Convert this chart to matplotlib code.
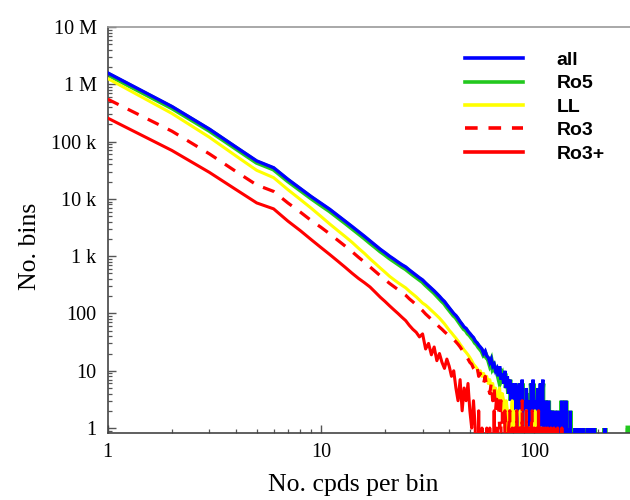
import matplotlib
matplotlib.use("Agg")
import matplotlib.pyplot as plt
from matplotlib.ticker import FixedLocator, FixedFormatter, LogLocator, NullFormatter
from matplotlib.lines import Line2D

# ---------------- data ----------------
series_names = ["all", "Ro5", "LL", "Ro3", "Ro3+"]

all_counts = [
    1580000, 410000, 165000, 80000, 46000, 35000, 22000, 15200, 11000, 8400,
    6600, 5150, 4100, 3300, 2700, 2230, 1850, 1560, 1320, 1150,
    1000, 890, 790, 710, 650, 575, 515, 465, 420, 385,
    340, 305, 275, 248, 222, 200, 178, 162, 142, 126,
    112, 100, 92, 82, 72, 65, 58, 55, 49, 45,
    41, 38, 33, 31, 28, 26, 24, 20, 22, 18,
    17, 14, 16, 12, 13, 10, 11, 8, 12, 7,
    9, 6, 10, 5, 8, 4, 7, 3, 6, 5,
    2, 6, 4, 1, 5, 6, 2, 7, 1, 3,
    0, 5, 2, 1, 3, 0, 6, 4, 7, 2,
    0, 3, 1, 5, 0, 1, 6, 0, 4, 7,
    0, 1, 3, 0, 1, 0, 3, 0, 2, 0,
    2, 0, 1, 0, 2, 0, 0, 1, 0, 2,
    0, 0, 1, 0, 3, 0, 0, 2, 0, 0,
    3, 0, 0, 0, 1, 0, 0, 2, 0, 0,
    0, 0, 0, 0, 0, 1, 0, 0, 0, 1,
    0, 0, 1, 0, 0, 0, 0, 0, 0, 1,
    0, 0, 0, 0, 0, 0, 0, 1, 0, 0,
    0, 0, 0, 0, 1, 0, 0, 0, 0, 0,
    0, 1, 0, 0, 0, 0, 0, 0, 0, 0,
    0, 0, 0, 0, 0, 0, 0, 0, 0, 0,
    0, 0, 0, 0, 1, 0, 0, 0, 0, 0,
]

ro5_counts = [
    1500000, 390000, 157000, 76000, 43500, 33200, 20800, 14400, 10400, 7900,
    6200, 4850, 3850, 3100, 2530, 2090, 1730, 1460, 1235, 1075,
    935, 830, 740, 665, 605, 538, 482, 435, 393, 360,
    318, 285, 257, 232, 207, 186, 166, 151, 132, 117,
    104, 93, 86, 76, 67, 60, 54, 51, 45, 42,
    38, 35, 31, 29, 26, 24, 22, 19, 20, 17,
    16, 13, 15, 11, 12, 10, 10, 8, 11, 7,
    8, 6, 9, 5, 7, 4, 7, 3, 5, 5,
    2, 5, 4, 1, 5, 6, 2, 6, 1, 3,
    0, 4, 2, 1, 3, 0, 6, 4, 6, 2,
    0, 3, 1, 5, 0, 1, 5, 0, 4, 6,
    0, 1, 3, 0, 1, 0, 3, 0, 2, 0,
    2, 0, 1, 0, 2, 0, 0, 1, 0, 2,
    0, 0, 1, 0, 3, 0, 0, 2, 0, 0,
    3, 0, 0, 0, 1, 0, 0, 2, 0, 0,
    0, 0, 0, 0, 0, 1, 0, 0, 0, 1,
    0, 0, 1, 0, 0, 0, 0, 0, 0, 1,
    0, 0, 0, 0, 0, 0, 0, 1, 0, 0,
    0, 0, 0, 0, 1, 0, 0, 0, 0, 0,
    0, 1, 0, 0, 0, 0, 0, 0, 0, 0,
    0, 0, 0, 0, 0, 0, 0, 0, 0, 0,
    0, 0, 0, 0, 1, 0, 0, 0, 0, 0,
    0, 0, 0, 0, 0, 0, 0, 0, 0, 0,
    0, 0, 0, 0, 0, 0, 0, 0, 0, 0,
    0, 0, 0, 0, 0, 0, 0, 0, 0, 0,
    0, 0, 0, 0, 0, 0, 0, 0, 0, 0,
    0, 0, 0, 0, 0, 0, 0, 0, 0, 0,
    0, 0, 0, 0, 0, 1, 1, 0, 0, 0,
]

ll_counts = [
    1260000, 310000, 119000, 56000, 31500, 23500, 14500, 9800, 6900, 4950,
    3650, 2800, 2200, 1750, 1380, 1120, 900, 745, 620, 525,
    445, 390, 345, 310, 280, 245, 218, 195, 172, 152,
    140, 126, 113, 102, 92, 83, 74, 66, 58, 51,
    46, 41, 37, 33, 29, 26, 23, 21, 19, 17,
    15, 13, 12, 11, 9, 10, 8, 9, 7, 8,
    6, 7, 5, 6, 4, 5, 3, 4, 5, 2,
    4, 3, 1, 3, 2, 0, 2, 1, 3, 0,
    1, 2, 0, 1, 0, 2, 1, 0, 0, 1,
    0, 2, 0, 0, 1, 0, 0, 1, 0, 0,
    2, 0, 0, 1, 0, 0, 0, 1, 0, 0,
]

ro3_counts = [
    550000, 152000, 61000, 30000, 17500, 13500, 8500, 5900, 4200, 3200,
    2450, 1900, 1500, 1200, 960, 790, 650, 540, 455, 390,
    335, 295, 260, 232, 208, 180, 160, 142, 126, 112,
    98, 88, 79, 71, 64, 58, 53, 48, 44, 41,
    38, 35, 32, 29, 26, 23, 20, 18, 16, 14,
    13, 11, 10, 12, 8, 9, 7, 6, 8, 5,
    5, 4, 6, 3, 5, 2, 4, 3, 1, 3,
    2, 0, 2, 1, 0, 1, 2, 0, 1, 0,
    1, 0, 2, 0, 1, 1, 0, 3, 0, 1,
    0, 2, 0, 1, 0, 0, 1, 2, 0, 1,
    0, 0, 1, 0, 2, 0, 1, 0, 0, 1,
    0, 0, 1, 0, 0, 1, 0, 0, 0, 1,
    0, 0, 0, 1, 0, 0, 0, 0, 1, 0,
    0, 0, 0, 0, 1, 0, 0, 0, 0, 0,
]

ro3plus_counts = [
    257000, 70000, 29000, 14500, 8500, 6700, 4100, 2800, 1950, 1420,
    1070, 820, 640, 505, 410, 345, 290, 235, 192, 162,
    136, 116, 100, 86, 75, 62, 53, 47, 39, 44,
    24, 30, 19, 26, 15, 20, 14, 11, 16, 12,
    8, 10, 5, 3, 7, 2, 5, 3, 6, 2,
    1, 3, 1, 0, 2, 0, 1, 0, 0, 1,
    0, 1, 0, 0, 2, 0, 1, 0, 0, 1,
]

ytick_values = [1, 10, 100, 1e3, 1e4, 1e5, 1e6, 1e7]
ytick_labels = ["1", "10", "100", "1 k", "10 k", "100 k", "1 M", "10 M"]
xtick_values = [1, 10, 100]
xtick_labels = ["1", "10", "100"]

# ---------------- plot ----------------
fig = plt.figure(figsize=(6.3, 5.0), dpi=100)
ax = fig.add_axes([0.171, 0.134, 0.829, 0.812])

def xs(vals):
    return list(range(1, len(vals) + 1))

ax.set_xscale("log", nonpositive="clip")
ax.set_yscale("log", nonpositive="clip")

ax.plot(xs(ro5_counts), ro5_counts, color="#22c81e", lw=3.6, solid_joinstyle="miter", zorder=2)
ax.plot(xs(all_counts), all_counts, color="#0000ff", lw=2.4, solid_joinstyle="miter", zorder=3)
ax.plot(xs(ll_counts), ll_counts, color="#ffff00", lw=2.2, zorder=4)
ax.plot(xs(ro3_counts), ro3_counts, color="#ff0000", lw=2.3, ls=(0, (3.8, 3.2)), zorder=5)
ax.plot(xs(ro3plus_counts), ro3plus_counts, color="#ff0000", lw=2.2, zorder=6)

ax.set_xlim(1, 282)
ax.set_ylim(0.82, 1e7)

ax.yaxis.set_major_locator(FixedLocator(ytick_values))
ax.yaxis.set_major_formatter(FixedFormatter(ytick_labels))
ax.yaxis.set_minor_locator(LogLocator(base=10, subs=[2, 3, 4, 5, 6, 7, 8, 9], numticks=20))
ax.yaxis.set_minor_formatter(NullFormatter())
ax.xaxis.set_major_locator(FixedLocator(xtick_values))
ax.xaxis.set_major_formatter(FixedFormatter(xtick_labels))
ax.xaxis.set_minor_locator(LogLocator(base=10, subs=[2, 3, 4, 5, 6, 7, 8, 9], numticks=20))
ax.xaxis.set_minor_formatter(NullFormatter())

serif = "Liberation Serif"
ax.tick_params(which="major", direction="in", length=5.5, width=1.0, color="#555555",
               labelsize=14.5)
ax.tick_params(axis="y", which="major", pad=8)
ax.tick_params(axis="x", which="major", pad=7)
ax.tick_params(which="minor", direction="in", length=3, width=0.9, color="#555555")
for lab in ax.get_xticklabels() + ax.get_yticklabels():
    lab.set_fontfamily(serif)

for s in ["left", "bottom"]:
    ax.spines[s].set_color("#444444")
    ax.spines[s].set_linewidth(1.2)
ax.spines["top"].set_color("#999999")
ax.spines["top"].set_linewidth(1.2)
ax.spines["right"].set_visible(False)

ax.set_xlabel("No. cpds per bin", fontfamily=serif, fontsize=18.5)
ax.set_ylabel("No. bins", fontfamily=serif, fontsize=18.5)
ax.xaxis.set_label_coords(0.471, -0.100)
ax.yaxis.set_label_coords(-0.128, 0.46)

handles = [
    Line2D([], [], color="#0000ff", lw=2.6),
    Line2D([], [], color="#22c81e", lw=2.6),
    Line2D([], [], color="#ffff00", lw=2.6),
    Line2D([], [], color="#ff0000", lw=2.6, ls=(0, (3.5, 3.0))),
    Line2D([], [], color="#ff0000", lw=2.6),
]
leg = ax.legend(handles, series_names, loc="upper left", bbox_to_anchor=(0.684, 0.94),
                frameon=False, borderpad=0, borderaxespad=0,
                handlelength=3.0, handletextpad=1.7, labelspacing=0.3,
                prop={"family": "Liberation Sans", "weight": "bold", "size": 14})

fig.savefig("out.png", dpi=100)
